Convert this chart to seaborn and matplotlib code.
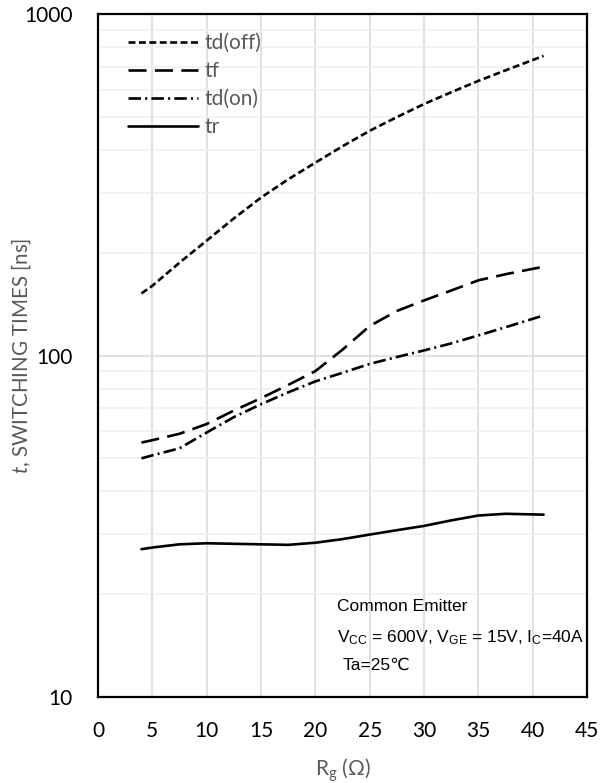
import matplotlib
matplotlib.use('Agg')
import matplotlib.pyplot as plt
from matplotlib.lines import Line2D
from matplotlib.ticker import LogLocator, NullFormatter
import seaborn as sns
import pandas as pd
import numpy as np

# ---- data ----
rg = [4, 5, 7.5, 10, 12.5, 15, 17.5, 20, 22.5, 25, 27.5, 30, 32.5, 35, 37.5, 41]
td_off = [152, 160, 187, 217, 252, 290, 328, 367, 410, 455, 499, 545, 590, 637, 684, 754]
tf = [55.6, 56.5, 59, 63, 69, 75, 82, 90, 104, 122, 135, 145, 155, 166, 173, 182]
td_on = [50, 51, 53.5, 59.5, 66, 72, 78, 84, 89, 94.5, 99, 103.5, 108.5, 114.5, 121, 131]
tr = [27.1, 27.4, 28.0, 28.2, 28.1, 28.0, 27.9, 28.3, 29.0, 29.9, 30.8, 31.7, 32.9, 34.0, 34.4, 34.2]
series_names = ['td(off)', 'tf', 'td(on)', 'tr']
x_ticks = [0, 5, 10, 15, 20, 25, 30, 35, 40, 45]
y_ticks = [10, 100, 1000]
y_tick_labels = ['10', '100', '1000']

values = [td_off, tf, td_on, tr]
df = pd.DataFrame({
    'Rg': rg * len(series_names),
    'time': sum(values, []),
    'series': sum([[n] * len(rg) for n in series_names], []),
})

sns.set_theme(style='white')
plt.rcParams['font.family'] = ['Lato', 'DejaVu Sans']
plt.rcParams['lines.scale_dashes'] = False
plt.rcParams['mathtext.fontset'] = 'custom'
plt.rcParams['mathtext.rm'] = 'Lato'
plt.rcParams['mathtext.it'] = 'Lato:italic'
plt.rcParams['mathtext.sf'] = 'Liberation Sans'

fig = plt.figure(figsize=(6.03, 7.83), dpi=100)
fig.patch.set_facecolor('white')
ax = fig.add_axes([0.1625, 0.1098, 0.811, 0.8723])

dash_map = {'td(off)': (5, 2.5), 'tf': (13, 6), 'td(on)': (9, 3, 1.5, 3), 'tr': ''}
LW = 1.9
sns.lineplot(data=df, x='Rg', y='time', style='series', style_order=series_names,
             dashes=dash_map, color='black', linewidth=LW, ax=ax, legend=False)

ax.set_yscale('log')
ax.set_xlim(0, 45)
ax.set_ylim(10, 1000)
ax.set_xticks(x_ticks)
ax.set_xticklabels([str(v) for v in x_ticks])
ax.set_yticks(y_ticks)
ax.set_yticklabels(y_tick_labels)
ax.yaxis.set_minor_locator(LogLocator(base=10, subs=np.arange(2, 10)))
ax.yaxis.set_minor_formatter(NullFormatter())

ax.grid(True, which='major', axis='both', color='#d9d9d9', linewidth=1.1)
ax.grid(True, which='minor', axis='y', color='#efefef', linewidth=1.1)
ax.set_axisbelow(True)

ax.tick_params(which='both', length=0)
ax.tick_params(axis='y', pad=18.5, labelsize=15, labelcolor='black')
ax.tick_params(axis='x', pad=17, labelsize=15, labelcolor='black')
for s in ax.spines.values():
    s.set_color('black')
    s.set_linewidth(1.6)
    s.set_visible(True)

ax.set_xlabel(r'R$_\mathrm{g}$ (Ω)', fontsize=15, color='#595959')
ax.xaxis.set_label_coords(0.5, -0.0878)
ax.set_ylabel(r'$t$, SWITCHING TIMES [ns]', fontsize=14.8, color='#595959')
ax.yaxis.label.set_va('center')
ax.yaxis.set_label_coords(-0.1575, 0.5)

handles = []
for n in series_names:
    h = Line2D([], [], color='black', linewidth=LW)
    d = dash_map[n]
    if d:
        h.set_dashes(d)
    handles.append(h)
ax.legend(handles, series_names, loc='upper left', bbox_to_anchor=(0.0613, 0.972),
          frameon=False, fontsize=15, handlelength=3.35, handletextpad=0.3,
          labelspacing=0.38, borderpad=0, borderaxespad=0, labelcolor='#595959')

ax.text(0.489, 0.132, 'Common Emitter', transform=ax.transAxes, fontsize=12.5,
        family='Liberation Sans', va='center', color='black')
ax.text(0.489, 0.0864, r'V$_\mathsf{CC}$ = 600V, V$_\mathsf{GE}$ = 15V, I$_\mathsf{C}$=40A',
        transform=ax.transAxes, fontsize=12.5, family='Liberation Sans', va='center', color='black')
ax.text(0.501, 0.0469, 'Ta=25℃', transform=ax.transAxes, fontsize=12.5,
        family=['Liberation Sans', 'DejaVu Sans'], va='center', color='black')

fig.savefig('out.png', dpi=100, facecolor='white')
